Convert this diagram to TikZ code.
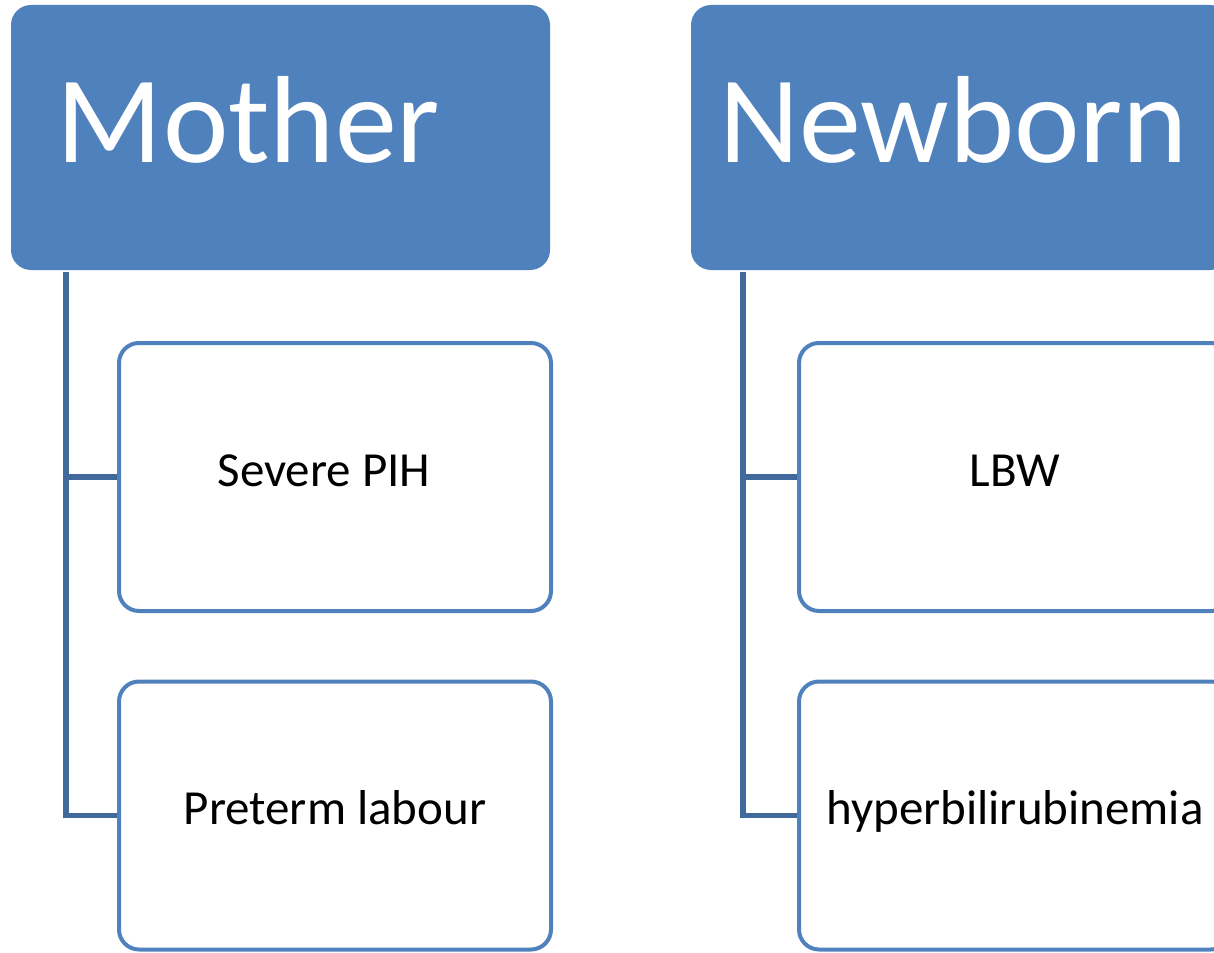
\documentclass[tikz,border=0pt]{standalone}
\usepackage{fontspec}
\setmainfont{Carlito}
\usetikzlibrary{calc}
\definecolor{hdrblue}{HTML}{4F81BD}
\definecolor{trunkblue}{HTML}{41699B}
\tikzset{
 hdr/.style={fill=hdrblue, rounded corners=20, minimum width=539, minimum height=265, inner sep=0,
   text=white, font=\fontsize{124}{124}\selectfont, text height=88, text depth=37},
 leaf/.style={draw=hdrblue, line width=4, fill=white, rounded corners=20, minimum width=432, minimum height=268, inner sep=0,
   font=\fontsize{49}{49}\selectfont, text height=27, text depth=9},
 trunk/.style={draw=trunkblue, line width=5.5}
}

\begin{document}
\begin{tikzpicture}[x=1pt, y=-1pt]
\useasboundingbox (0,0) rectangle (1214,952);
\clip (0,0) rectangle (1214,952);
% headers
\node[hdr] (mother) at (280.5,137.5) {Mother\kern64pt};
\node[hdr] (newborn) at (960.5,137.5) {Newborn\kern14pt};
% leaves
\node[leaf] (pih) at (335,477) {Severe PIH\kern22pt};
\node[leaf] (preterm) at (335,815.5) {Preterm labour};
\node[leaf] (lbw) at (1015,477) {LBW};
\node[leaf] (hyper) at (1015,815.5) {hyperbilirubinemia};
% connectors
\coordinate (mtrunk) at (66,272);
\coordinate (ntrunk) at (743,272);
\draw[trunk] (mtrunk) |- (pih.west);
\draw[trunk] (mtrunk) |- (preterm.west);
\draw[trunk] (ntrunk) |- (lbw.west);
\draw[trunk] (ntrunk) |- (hyper.west);
\end{tikzpicture}
\end{document}
